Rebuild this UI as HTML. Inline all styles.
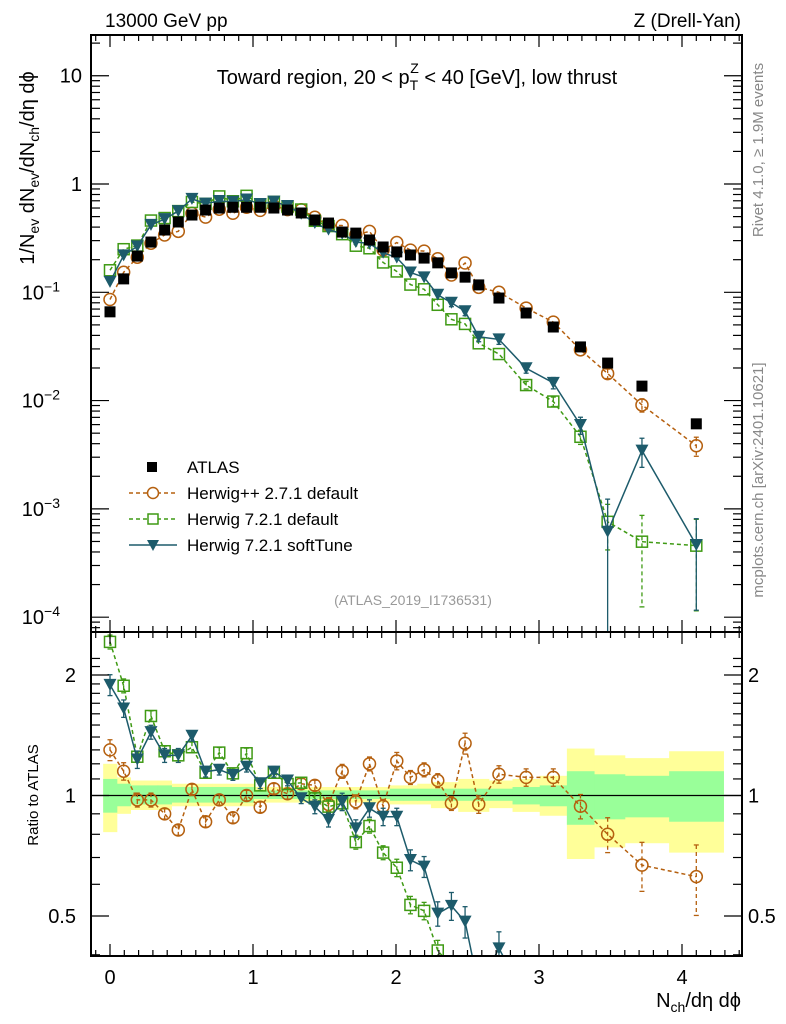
<!DOCTYPE html>
<html><head><meta charset="utf-8">
<style>
html,body{margin:0;padding:0;background:#fff;width:786px;height:1024px;overflow:hidden;}
svg{display:block;font-family:"Liberation Sans",sans-serif;}
</style></head>
<body>
<svg id="chart" width="786" height="1024" viewBox="0 0 786 1024" xmlns="http://www.w3.org/2000/svg">
<rect x="0" y="0" width="786" height="1024" fill="#fff"/>
<g id="bands"></g>
<g id="grid"></g>
<g id="series"></g>
<g id="axes"></g>
<text x="105" y="27" font-size="19">13000 GeV pp</text>
<text x="741" y="27" font-size="19" text-anchor="end">Z (Drell-Yan)</text>
<text x="417" y="84" font-size="20" text-anchor="middle">Toward region, 20 &lt; p<tspan font-size="14" dy="6">T</tspan><tspan font-size="14" dx="-8" dy="-17">Z</tspan><tspan dy="11"> &lt; 40 [GeV], low thrust</tspan></text>
<text transform="translate(34,168) rotate(-90)" font-size="20" text-anchor="middle">1/N<tspan font-size="14" dy="5">ev</tspan><tspan dy="-5"> dN</tspan><tspan font-size="14" dy="5">ev</tspan><tspan dy="-5">/dN</tspan><tspan font-size="14" dy="5">ch</tspan><tspan dy="-5">/dη dϕ</tspan></text>
<text transform="translate(38,795) rotate(-90)" font-size="15" text-anchor="middle">Ratio to ATLAS</text>
<text x="741" y="1007" font-size="20" text-anchor="end">N<tspan font-size="14" dy="5">ch</tspan><tspan dy="-5">/dη dϕ</tspan></text>
<text transform="translate(763,150) rotate(-90)" font-size="15" fill="#888" text-anchor="middle">Rivet 4.1.0, ≥ 1.9M events</text>
<text transform="translate(763,480) rotate(-90)" font-size="15" fill="#888" text-anchor="middle">mcplots.cern.ch [arXiv:2401.10621]</text>
<text x="413" y="605" font-size="14" fill="#999" text-anchor="middle">(ATLAS_2019_I1736531)</text>
<g id="legend"></g>
</svg>
<script>
// ---- data ----
const xVals = [0,0.0955,0.191,0.2865,0.382,0.4775,0.573,0.6685,0.764,0.8595,0.955,1.0505,1.146,1.2415,1.337,1.4325,1.528,1.6235,1.719,1.8145,1.91,2.0055,2.101,2.1965,2.292,2.3875,2.483,2.5785,2.72,2.91,3.10,3.29,3.48,3.72,4.10];
const atlas = [0.066,0.133,0.216,0.291,0.376,0.446,0.517,0.575,0.60,0.61,0.61,0.61,0.60,0.575,0.54,0.465,0.436,0.36,0.352,0.304,0.262,0.236,0.221,0.207,0.187,0.151,0.138,0.117,0.0885,0.0644,0.0478,0.0313,0.0222,0.0136,0.0061];
const bandTotUp = [1.20,1.11,1.09,1.09,1.09,1.07,1.07,1.07,1.07,1.07,1.07,1.05,1.05,1.05,1.05,1.05,1.05,1.05,1.05,1.05,1.05,1.06,1.06,1.07,1.08,1.08,1.10,1.10,1.09,1.10,1.12,1.31,1.26,1.24,1.29];
const bandTotDn = [0.81,0.90,0.92,0.92,0.92,0.94,0.94,0.94,0.94,0.94,0.94,0.96,0.96,0.96,0.96,0.96,0.96,0.96,0.96,0.96,0.96,0.95,0.95,0.95,0.93,0.93,0.91,0.91,0.93,0.91,0.89,0.694,0.742,0.76,0.72];
const bandStatUp = [1.10,1.07,1.06,1.06,1.06,1.05,1.05,1.05,1.05,1.05,1.05,1.03,1.03,1.03,1.03,1.03,1.03,1.03,1.03,1.03,1.03,1.04,1.04,1.04,1.04,1.04,1.04,1.04,1.04,1.05,1.06,1.15,1.13,1.12,1.15];
const bandStatDn = [0.906,0.94,0.95,0.95,0.95,0.96,0.96,0.96,0.96,0.96,0.96,0.98,0.98,0.98,0.98,0.98,0.98,0.98,0.98,0.98,0.98,0.97,0.97,0.97,0.97,0.97,0.97,0.97,0.97,0.95,0.94,0.845,0.872,0.882,0.86];
// ratio of each MC to ATLAS
const hwppRatio = [1.30,1.15,0.975,0.975,0.90,0.82,1.036,0.86,0.975,0.88,1.0,0.935,1.04,1.01,1.07,1.06,0.95,1.15,0.965,1.20,0.94,1.22,1.11,1.16,1.09,0.956,1.35,0.95,1.13,1.11,1.11,0.94,0.80,0.67,0.627];
const h72Ratio = [2.42,1.88,1.25,1.58,1.29,1.26,1.32,1.14,1.28,1.136,1.275,1.06,1.14,1.068,1.076,0.984,0.938,0.956,0.765,0.839,0.72,0.66,0.533,0.515,0.41,0.373,0.37,0.289,0.304,0.216,0.205,0.148,0.0342,0.0366,0.075];
const softRatio = [1.89,1.65,1.23,1.44,1.26,1.26,1.41,1.147,1.16,1.125,1.18,1.073,1.147,1.09,0.984,0.938,0.869,0.965,0.828,0.929,0.885,0.885,0.69,0.664,0.507,0.53,0.484,0.332,0.415,0.309,0.305,0.19,0.0277,0.254,0.076];
// relative MC uncertainties
const hwppErr = [0.06,0.05,0.04,0.04,0.03,0.03,0.03,0.03,0.03,0.03,0.03,0.03,0.03,0.03,0.03,0.03,0.04,0.04,0.04,0.04,0.04,0.05,0.04,0.04,0.04,0.04,0.06,0.05,0.05,0.05,0.05,0.07,0.10,0.14,0.20];
const h72Err = [0.04,0.04,0.03,0.03,0.03,0.03,0.03,0.03,0.03,0.03,0.03,0.03,0.03,0.03,0.03,0.03,0.04,0.04,0.04,0.04,0.04,0.05,0.05,0.05,0.06,0.06,0.07,0.07,0.07,0.08,0.10,0.15,0.45,0.75,0.75];
const softErr = [0.06,0.05,0.05,0.04,0.04,0.04,0.03,0.03,0.03,0.03,0.03,0.03,0.03,0.03,0.03,0.04,0.04,0.05,0.05,0.05,0.05,0.05,0.06,0.06,0.07,0.08,0.09,0.10,0.10,0.10,0.12,0.18,1.0,0.30,0.75];
const yTickLabels = ["10","1","10","10","10","10"];
const yTickExps = [null,null,"−1","−2","−3","−4"];
const ratioTickLabels = ["2","1","0.5"];
const ratioTickVals = [2,1,0.5];
const xTickLabels = ["0","1","2","3","4"];

// ---- geometry ----
const L=91,R=742,T=35,MB=632,RB=956;
const X0=110, XS=143;
const sx = v => X0 + v*XS;
const LOGTOP=1.376, LOGBOT=-4.137;
const sy = v => T + (LOGTOP - Math.log10(v))/(LOGTOP-LOGBOT)*(MB-T);
const RTOP=1.357, RBOT=-1.332;
const sr = v => MB + (RTOP - Math.log2(v))/(RTOP-RBOT)*(RB-MB);
const NS="http://www.w3.org/2000/svg";
function mk(tag, attrs, parent){const e=document.createElementNS(NS,tag);for(const k in attrs)e.setAttribute(k,attrs[k]);parent.appendChild(e);return e;}
const gB=document.getElementById('bands'), gS=document.getElementById('series'), gA=document.getElementById('axes'), gL=document.getElementById('legend');

const defs=mk('defs',{},document.getElementById('chart'));
const c1=mk('clipPath',{id:'clipMain'},defs); mk('rect',{x:L,y:T,width:R-L,height:MB-T},c1);
const c2=mk('clipPath',{id:'clipRatio'},defs); mk('rect',{x:L,y:MB,width:R-L,height:RB-MB},c2);

// bands
const edges=[];
for(let i=0;i<=xVals.length;i++){
  if(i===0) edges.push(xVals[0]-(xVals[1]-xVals[0])/2);
  else if(i===xVals.length) edges.push(2*xVals[i-1]-edges[i-1]);
  else edges.push((xVals[i-1]+xVals[i])/2);
}
for(let i=0;i<xVals.length;i++){
  const x1=sx(edges[i]), x2=sx(edges[i+1]);
  const yb=mk('rect',{x:x1,y:sr(bandTotUp[i]),width:x2-x1+0.5,height:sr(bandTotDn[i])-sr(bandTotUp[i]),fill:'#ffff99'},gB);
  
  
}
for(let i=0;i<xVals.length;i++){
  const x1=sx(edges[i]), x2=sx(edges[i+1]);
  const gb=mk('rect',{x:x1,y:sr(bandStatUp[i]),width:x2-x1+0.5,height:sr(bandStatDn[i])-sr(bandStatUp[i]),fill:'#99ff99'},gB);
  
  
}
const ref=mk('line',{x1:L,x2:R,y1:sr(1),y2:sr(1),stroke:'#000','stroke-width':1.3},gB);



function marker(type,cx,cy,col,g){
  if(type==='sq'){const m=mk('rect',{x:cx-5.5,y:cy-5.5,width:11,height:11,fill:'#000'},g);}
  else if(type==='circ'){const m=mk('circle',{cx:cx,cy:cy,r:6,fill:'none',stroke:col,'stroke-width':1.5},g);}
  else if(type==='osq'){const m=mk('rect',{x:cx-5.5,y:cy-5.5,width:11,height:11,fill:'none',stroke:col,'stroke-width':1.5},g);}
  else {const m=mk('path',{d:`M${cx-6.5},${cy-6} L${cx+6.5},${cy-6} L${cx},${cy+6} Z`,fill:col},g);}
}
const series=[
 {name:'herwigpp-2-7-1-default',ratio:hwppRatio,err:hwppErr,col:'#b5600f',dash:'4,3',m:'circ'},
 {name:'herwig-7-2-1-default',ratio:h72Ratio,err:h72Err,col:'#3f9a14',dash:'4,3',m:'osq'},
 {name:'herwig-7-2-1-softtune',ratio:softRatio,err:softErr,col:'#1d5b6b',dash:'',m:'tri'}
];
const gMain=mk('g',{'clip-path':'url(#clipMain)'},gS);
const gRat=mk('g',{'clip-path':'url(#clipRatio)'},gS);
series.forEach(s=>{
  const vals=s.ratio.map((r,i)=>r*atlas[i]);
  const gm=mk('g',{},gMain);  
  const gr=mk('g',{},gRat);  
  const lineAttrs={fill:'none',stroke:s.col,'stroke-width':1.5};
  if(s.dash) lineAttrs['stroke-dasharray']=s.dash;
  const pm=mk('polyline',Object.assign({points:vals.map((v,i)=>sx(xVals[i])+','+sy(v)).join(' ')},lineAttrs),gm);
  
  
  const pr=mk('polyline',Object.assign({points:s.ratio.map((v,i)=>sx(xVals[i])+','+sr(v)).join(' ')},lineAttrs),gr);
  
  
  vals.forEach((v,i)=>{
    const cx=sx(xVals[i]); const e=s.err[i];
    const lo=Math.max(v*(1-e),1e-6), hi=v*(1+e);
    const ea=Object.assign({},lineAttrs,{'stroke-width':1.3});
    if(e>=0.08){
      const eb=mk('line',Object.assign({x1:cx,x2:cx,y1:sy(hi),y2:sy(lo)},ea),gm);
      
      
      mk('line',{x1:cx-2.5,x2:cx+2.5,y1:sy(hi),y2:sy(hi),stroke:s.col,'stroke-width':1.3},gm);
      mk('line',{x1:cx-2.5,x2:cx+2.5,y1:sy(lo),y2:sy(lo),stroke:s.col,'stroke-width':1.3},gm);
    }
    marker(s.m,cx,sy(v),s.col,gm);
    const r=s.ratio[i], rlo=Math.max(r*(1-e),1e-6), rhi=r*(1+e);
    const er=mk('line',Object.assign({x1:cx,x2:cx,y1:sr(rhi),y2:sr(rlo)},ea),gr);
    
    
    mk('line',{x1:cx-2.5,x2:cx+2.5,y1:sr(rhi),y2:sr(rhi),stroke:s.col,'stroke-width':1.3},gr);
    mk('line',{x1:cx-2.5,x2:cx+2.5,y1:sr(rlo),y2:sr(rlo),stroke:s.col,'stroke-width':1.3},gr);
    marker(s.m,cx,sr(r),s.col,gr);
  });
});
const gAt=mk('g',{'clip-path':'url(#clipMain)'},gS);


atlas.forEach((v,i)=>marker('sq',sx(xVals[i]),sy(v),'#000',gAt));

const f1=mk('rect',{x:L,y:T,width:R-L,height:MB-T,fill:'none',stroke:'#000','stroke-width':2},gA);
 
const f2=mk('rect',{x:L,y:MB,width:R-L,height:RB-MB,fill:'none',stroke:'#000','stroke-width':2},gA);
 

for(let k=-1;k<=44;k++){
  const v=k/10; const x=sx(v); if(x<L+1||x>R-1) continue;
  const major=(k%10===0); const len=major?12:6;
  [[T,1],[MB,-1],[MB,1],[RB,-1]].forEach(([y0,d])=>mk('line',{x1:x,x2:x,y1:y0,y2:y0+d*len,stroke:'#000','stroke-width':1.2},gA));
}
xTickLabels.forEach((t,i)=>{
  const tx=mk('text',{x:sx(+t),y:984,'font-size':20,'text-anchor':'middle'},gA);
  tx.textContent=t;
  
  
});
for(let d=-5;d<=1;d++){
  for(let m=1;m<=9;m++){
    const v=m*Math.pow(10,d); const y=sy(v); if(y<T+1||y>MB-1) continue;
    const len=m===1?18:9;
    mk('line',{x1:L,x2:L+len,y1:y,y2:y,stroke:'#000','stroke-width':1.2},gA);
    mk('line',{x1:R,x2:R-len,y1:y,y2:y,stroke:'#000','stroke-width':1.2},gA);
  }
}
yTickLabels.forEach((t,i)=>{
  const y=sy(Math.pow(10,1-i));
  const tx=mk('text',{x:82,y:y+7,'font-size':20,'text-anchor':'end'},gA);
  
  
  if(yTickExps[i]){
    tx.setAttribute('x',60);
    tx.textContent=t;
    const sp=mk('tspan',{'font-size':14,dy:-8},tx); sp.textContent=yTickExps[i];
  } else tx.textContent=t;
});
for(let k=3;k<=22;k++){
  const v=k/10; const y=sr(v); if(y<MB+1||y>RB-1) continue;
  const major=(k===5||k===10||k===20); const len=major?18:9;
  mk('line',{x1:L,x2:L+len,y1:y,y2:y,stroke:'#000','stroke-width':1.2},gA);
  mk('line',{x1:R,x2:R-len,y1:y,y2:y,stroke:'#000','stroke-width':1.2},gA);
}
ratioTickLabels.forEach((t,i)=>{
  const y=sr(ratioTickVals[i])+7;
  const a=mk('text',{x:76,y:y,'font-size':20,'text-anchor':'end'},gA); a.textContent=t;
  
  
  const b=mk('text',{x:748,y:y,'font-size':20,'text-anchor':'start'},gA); b.textContent=t;
  
  
});

const legItems=[
 {label:'ATLAS',m:'sq',col:'#000',line:false,dash:''},
 {label:'Herwig++ 2.7.1 default',m:'circ',col:'#b5600f',line:true,dash:'4,3'},
 {label:'Herwig 7.2.1 default',m:'osq',col:'#3f9a14',line:true,dash:'4,3'},
 {label:'Herwig 7.2.1 softTune',m:'tri',col:'#1d5b6b',line:true,dash:''}
];
const legY=[467,493,519,545];
legItems.forEach((it,i)=>{
  const g=mk('g',{},gL);
  
  
  const y=legY[i];
  if(it.line){const a={x1:129,x2:177,y1:y,y2:y,stroke:it.col,'stroke-width':1.5}; if(it.dash)a['stroke-dasharray']=it.dash; mk('line',a,g);}
  if(it.m==='sq') mk('rect',{x:147,y:y-5,width:10,height:10,fill:'#000'},g);
  else if(it.m==='circ') mk('circle',{cx:153,cy:y,r:5.5,fill:'#fff',stroke:it.col,'stroke-width':1.5},g);
  else if(it.m==='osq') mk('rect',{x:148,y:y-5,width:10,height:10,fill:'#fff',stroke:it.col,'stroke-width':1.5},g);
  else mk('path',{d:`M${147},${y-5} L${159},${y-5} L${153},${y+6} Z`,fill:it.col},g);
  const t=mk('text',{x:187,y:y+6,'font-size':17},g); t.textContent=it.label;
});
</script>
</body></html>
